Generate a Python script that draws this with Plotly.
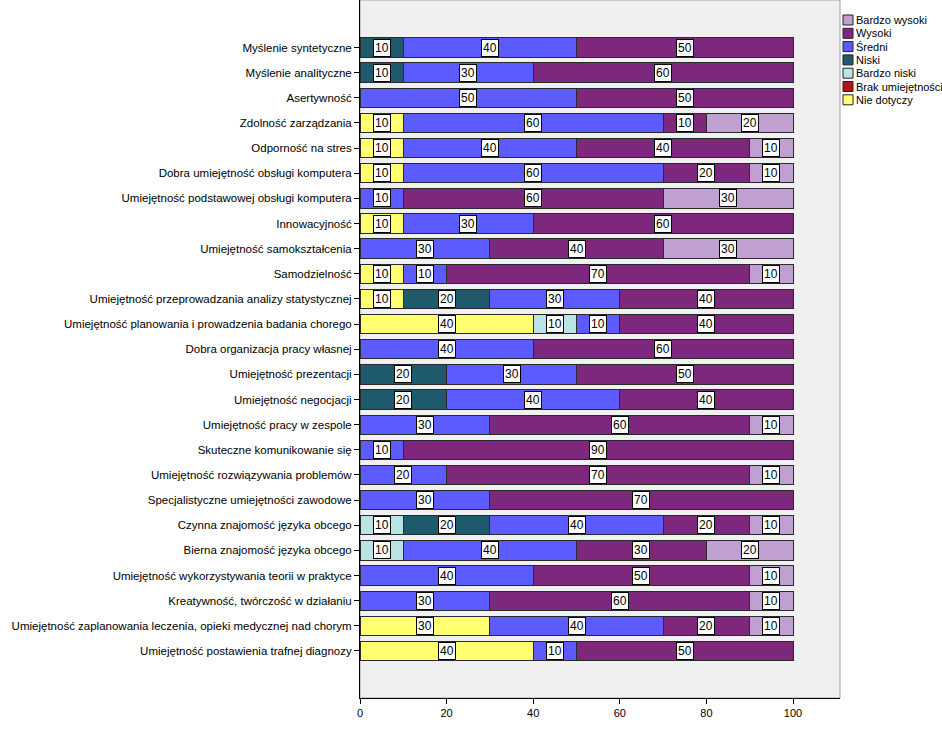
import plotly.graph_objects as go

categories = [
    "Myślenie syntetyczne",
    "Myślenie analityczne",
    "Asertywność",
    "Zdolność zarządzania",
    "Odporność na stres",
    "Dobra umiejętność obsługi komputera",
    "Umiejętność podstawowej obsługi komputera",
    "Innowacyjność",
    "Umiejętność samokształcenia",
    "Samodzielność",
    "Umiejętność przeprowadzania analizy statystycznej",
    "Umiejętność planowania i prowadzenia badania chorego",
    "Dobra organizacja pracy własnej",
    "Umiejętność prezentacji",
    "Umiejętność negocjacji",
    "Umiejętność pracy w zespole",
    "Skuteczne komunikowanie się",
    "Umiejętność rozwiązywania problemów",
    "Specjalistyczne umiejętności zawodowe",
    "Czynna znajomość języka obcego",
    "Bierna znajomość języka obcego",
    "Umiejętność wykorzystywania teorii w praktyce",
    "Kreatywność, twórczość w działaniu",
    "Umiejętność zaplanowania leczenia, opieki medycznej nad chorym",
    "Umiejętność postawienia trafnej diagnozy",
]

N = None
nie_dotyczy   = [N, N, N, 10, 10, 10, N, 10, N, 10, 10, 40, N, N, N, N, N, N, N, N, N, N, N, 30, 40]
brak          = [N] * 25
bardzo_niski  = [N, N, N, N, N, N, N, N, N, N, N, 10, N, N, N, N, N, N, N, 10, 10, N, N, N, N]
niski         = [10, 10, N, N, N, N, N, N, N, N, 20, N, N, 20, 20, N, N, N, N, 20, N, N, N, N, N]
sredni        = [40, 30, 50, 60, 40, 60, 10, 30, 30, 10, 30, 10, 40, 30, 40, 30, 10, 20, 30, 40, 40, 40, 30, 40, 10]
wysoki        = [50, 60, 50, 10, 40, 20, 60, 60, 40, 70, 40, 40, 60, 50, 40, 60, 90, 70, 70, 20, 30, 50, 60, 20, 50]
bardzo_wysoki = [N, N, N, 20, 10, 10, 30, N, 30, 10, N, N, N, N, N, 10, N, 10, N, 10, 20, 10, 10, 10, N]

series_names = ["Nie dotyczy", "Brak umiejętności", "Bardzo niski", "Niski", "Średni", "Wysoki", "Bardzo wysoki"]
series_values = [nie_dotyczy, brak, bardzo_niski, niski, sredni, wysoki, bardzo_wysoki]
series_colors = ["#FFFF70", "#B01818", "#B8E4E4", "#1F5A6C", "#5B5BFF", "#7D287D", "#BFA0D0"]

W, H = 942, 753
ML, MR, MT, MB = 360, 102, 0, 55
FONT = "Liberation Sans, Arial, sans-serif"

fig = go.Figure()
for name, vals, col in zip(series_names, series_values, series_colors):
    fig.add_trace(go.Bar(
        y=categories, x=vals, name=name, orientation="h",
        marker=dict(color=col, line=dict(color="#2a2a2a", width=1)),
        width=0.77, showlegend=False, hoverinfo="x+name",
    ))

# value labels
annotations = []
cum = [0.0] * len(categories)
for vals in series_values:
    for i, v in enumerate(vals):
        if v:
            annotations.append(dict(
                x=cum[i] + v / 2, y=categories[i], xref="x", yref="y",
                text=str(v), showarrow=False,
                font=dict(family=FONT, size=12, color="black"),
                bgcolor="white", bordercolor="black", borderwidth=1, borderpad=1,
            ))
            cum[i] += v

# manual legend (SPSS style)
pw = W - ML - MR
ph = H - MT - MB
def px2x(px): return (px - ML) / pw
def py2y(py): return 1 - (py - MT) / ph

shapes = []
leg_top = 15
step = 13.3
for k, (name, col) in enumerate(zip(series_names[::-1], series_colors[::-1])):
    y0 = leg_top + k * step
    shapes.append(dict(type="rect", xref="paper", yref="paper",
                       x0=px2x(843), x1=px2x(853), y0=py2y(y0), y1=py2y(y0 + 10),
                       fillcolor=col, line=dict(color="#222", width=1)))
    annotations.append(dict(x=px2x(854), y=py2y(y0 + 5), xref="paper", yref="paper",
                            xanchor="left", yanchor="middle", showarrow=False,
                            text=name, font=dict(family=FONT, size=11, color="black")))

# plot border
shapes.append(dict(type="rect", xref="paper", yref="paper", x0=0, x1=1, y0=0, y1=1,
                   line=dict(color="#a0a0a0", width=1), fillcolor="rgba(0,0,0,0)", layer="below"))

n = len(categories)
fig.update_layout(
    width=W, height=H,
    margin=dict(l=ML, r=MR, t=MT, b=MB, pad=0, autoexpand=False),
    barmode="stack",
    paper_bgcolor="white",
    plot_bgcolor="#F0F0F0",
    font=dict(family=FONT, size=11, color="black"),
    annotations=annotations,
    shapes=shapes,
    showlegend=False,
    xaxis=dict(range=[0, 110.85], tickvals=[0, 20, 40, 60, 80, 100], automargin=False,
               showgrid=False, zeroline=False, showline=True, linecolor="black", linewidth=1,
               ticks="outside", ticklen=5, tickcolor="black",
               tickfont=dict(family=FONT, size=11, color="black")),
    yaxis=dict(categoryorder="array", categoryarray=categories, automargin=False,
               range=[n - 1 + 1.87, -1.89],
               showgrid=False, zeroline=False, showline=True, linecolor="black", linewidth=1,
               ticks="outside", ticklen=5, tickcolor="black",
               tickfont=dict(family=FONT, size=11.5, color="black")),
)

fig.write_html("out.html")
